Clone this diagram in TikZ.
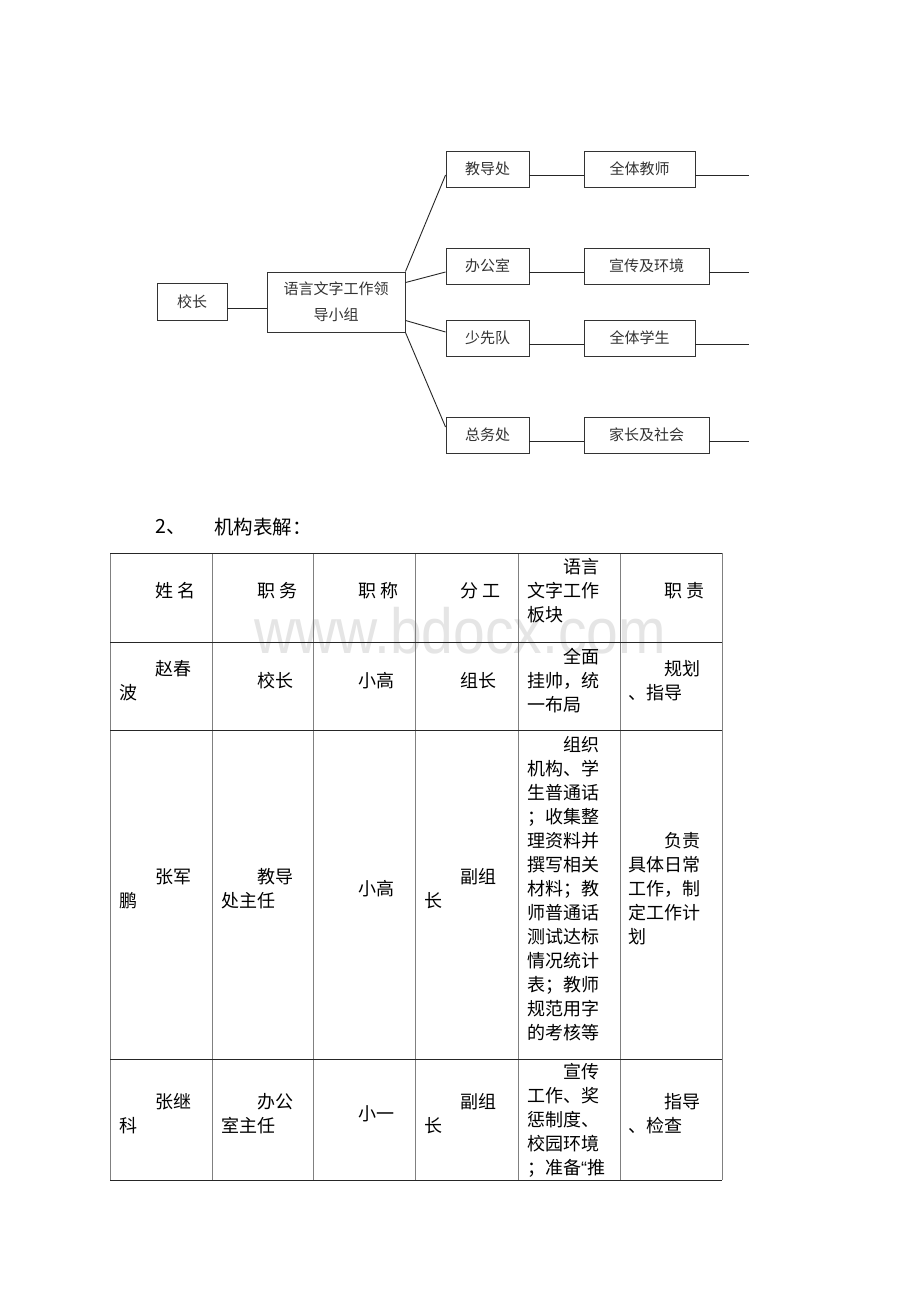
\documentclass[tikz,border=0pt]{standalone}
\usepackage{fontspec}
\newfontfamily\hei{Noto Sans CJK SC}
\newfontfamily\song{Noto Sans CJK SC}
\newfontfamily\wmfont{Liberation Sans}

\tikzset{
  box/.style={draw=black!80, line width=0.9pt, inner sep=0pt, minimum height=36pt,
    font=\hei\fontsize{15}{26}\selectfont, text=black!80},
  link/.style={draw=black!85, line width=0.9pt},
  cell/.style={anchor=west, align=left, inner sep=0pt, font=\song\fontsize{18}{24}\selectfont},
  rowline/.style={black!85, line width=1pt},
  colline/.style={black!50, line width=1pt},
}

\begin{document}
\begin{tikzpicture}[x=1pt, y=-1pt]
    \fill[white] (0,0) rectangle (920,1302);
    \useasboundingbox (0,0) rectangle (920,1302);

    % organisation chart
    \node[box, minimum width=70pt, minimum height=37pt] (xiaozhang) at (192, 302) {校长};
    \node[box, minimum width=138pt, minimum height=60pt, align=center] (lingdao) at (336, 302) {语言文字工作领\\导小组};

    \node[box, minimum width=83pt] (jiaodao) at (487.5, 169) {教导处};
    \node[box, minimum width=83pt] (bangong) at (487.5, 266) {办公室};
    \node[box, minimum width=83pt] (shaoxian) at (487.5, 338) {少先队};
    \node[box, minimum width=83pt] (zongwu) at (487.5, 435) {总务处};

    \node[box, minimum width=111pt] (jiaoshi) at (639.5, 169) {全体教师};
    \node[box, minimum width=125pt] (xuanchuan) at (646.5, 266) {宣传及环境};
    \node[box, minimum width=111pt] (xuesheng) at (639.5, 338) {全体学生};
    \node[box, minimum width=125pt] (jiazhang) at (646.5, 435) {家长及社会};

    \coordinate (end1) at (749, 175);
    \coordinate (end2) at (749, 272);
    \coordinate (end3) at (749, 344);
    \coordinate (end4) at (749, 441);

    \draw[link] ([yshift=-6pt]xiaozhang.east) -- ([yshift=-6pt]lingdao.west);

    \draw[link] (lingdao.north east) -- ([yshift=-6pt]jiaodao.west);
    \draw[link] ([yshift=-11pt]lingdao.north east) -- ([yshift=-6pt]bangong.west);
    \draw[link] ([yshift=12pt]lingdao.south east) -- ([yshift=6pt]shaoxian.west);
    \draw[link] (lingdao.south east) -- ([yshift=8pt]zongwu.west);

    \draw[link] ([yshift=-6pt]jiaodao.east) -- ([yshift=-6pt]jiaoshi.west);
    \draw[link] ([yshift=-6pt]bangong.east) -- ([yshift=-6pt]xuanchuan.west);
    \draw[link] ([yshift=-6pt]shaoxian.east) -- ([yshift=-6pt]xuesheng.west);
    \draw[link] ([yshift=-6pt]zongwu.east) -- ([yshift=-6pt]jiazhang.west);

    \draw[link] ([yshift=-6pt]jiaoshi.east) -- (end1);
    \draw[link] ([yshift=-6pt]xuanchuan.east) -- (end2);
    \draw[link] ([yshift=-6pt]xuesheng.east) -- (end3);
    \draw[link] ([yshift=-6pt]jiazhang.east) -- (end4);

    % heading
    \node[anchor=west, inner sep=0pt, font=\song\fontsize{19.5}{24}\selectfont] (num) at (155, 527) {2、};
    \node[anchor=west, inner sep=0pt, font=\song\fontsize{19.5}{24}\selectfont] (title) at (214, 527) {机构表解：};

    % watermark
    \node[anchor=base, inner sep=0pt, text=black!10, font=\wmfont\fontsize{57}{60}\selectfont] (wm) at (460, 653) {\scalebox{1}[1.12]{www.bdocx.com}};

    % table
    \foreach \x in {110,212,313,415,518,620,722}
      \draw[colline] (\x, 553) -- (\x, 1180);
    \foreach \y in {553,642,730,1059,1180}
      \draw[rowline] (110, \y) -- (722, \y);

    \node[cell] (c11) at (119, 591) {\hspace*{36pt}姓\hspace{4pt}名};
    \node[cell] (c12) at (221, 591) {\hspace*{36pt}职\hspace{4pt}务};
    \node[cell] (c13) at (322, 591) {\hspace*{36pt}职\hspace{4pt}称};
    \node[cell] (c14) at (424, 591) {\hspace*{36pt}分\hspace{4pt}工};
    \node[cell] (c15) at (527, 591) {\hspace*{36pt}语言\\文字工作\\板块};
    \node[cell] (c16) at (628, 591) {\hspace*{36pt}职\hspace{4pt}责};

    \node[cell] (c21) at (119, 680.5) {\hspace*{36pt}赵春\\波};
    \node[cell] (c22) at (221, 680.5) {\hspace*{36pt}校长};
    \node[cell] (c23) at (322, 680.5) {\hspace*{36pt}小高};
    \node[cell] (c24) at (424, 680.5) {\hspace*{36pt}组长};
    \node[cell] (c25) at (527, 680.5) {\hspace*{36pt}全面\\挂帅，统\\一布局};
    \node[cell] (c26) at (628, 680.5) {\hspace*{36pt}规划\\、指导};

    \node[cell] (c31) at (119, 888.5) {\hspace*{36pt}张军\\鹏};
    \node[cell] (c32) at (221, 888.5) {\hspace*{36pt}教导\\处主任};
    \node[cell] (c33) at (322, 888.5) {\hspace*{36pt}小高};
    \node[cell] (c34) at (424, 888.5) {\hspace*{36pt}副组\\长};
    \node[cell] (c35) at (527, 888.5) {\hspace*{36pt}组织\\机构、学\\生普通话\\；收集整\\理资料并\\撰写相关\\材料；教\\师普通话\\测试达标\\情况统计\\表；教师\\规范用字\\的考核等};
    \node[cell] (c36) at (628, 888.5) {\hspace*{36pt}负责\\具体日常\\工作，制\\定工作计\\划};

    \node[cell] (c41) at (119, 1114) {\hspace*{36pt}张继\\科};
    \node[cell] (c42) at (221, 1114) {\hspace*{36pt}办公\\室主任};
    \node[cell] (c43) at (322, 1114) {\hspace*{36pt}小一};
    \node[cell] (c44) at (424, 1114) {\hspace*{36pt}副组\\长};
    \node[cell] (c45) at (527, 1120) {\hspace*{36pt}宣传\\工作、奖\\惩制度、\\校园环境\\；准备{\wmfont “}推};
    \node[cell] (c46) at (628, 1114) {\hspace*{36pt}指导\\、检查};

\end{tikzpicture}
\end{document}
